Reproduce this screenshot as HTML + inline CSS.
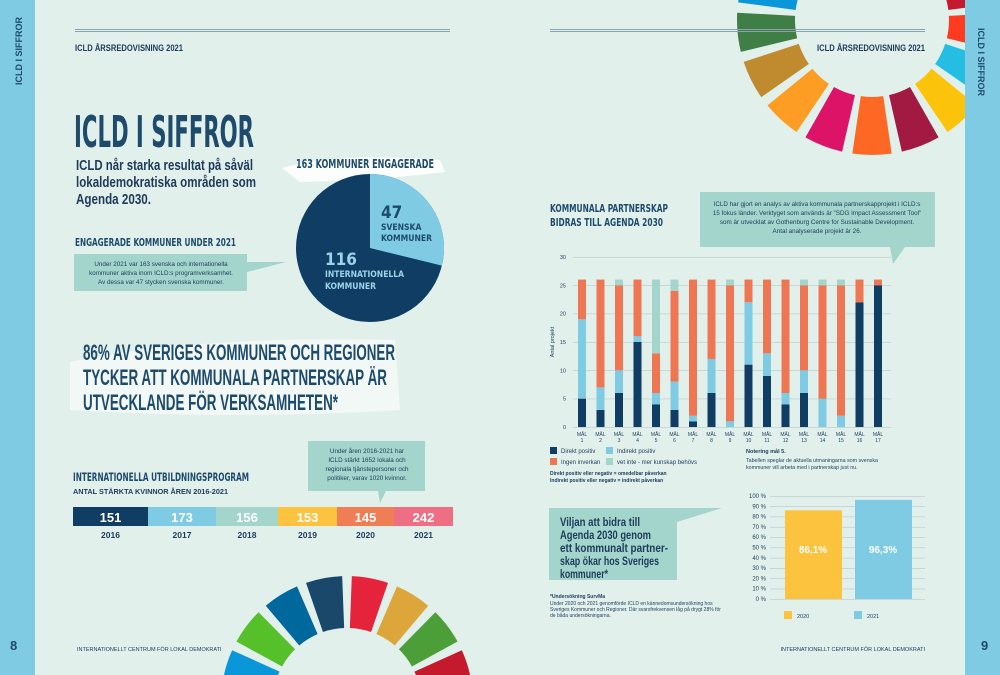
<!DOCTYPE html>
<html><head><meta charset="utf-8"><style>
html,body{margin:0;padding:0;background:#e2f0ec;width:1000px;height:675px;overflow:hidden;}
svg{display:block}
text{font-family:"Liberation Sans",sans-serif}
.g{font-family:"Liberation Sans Narrow","DejaVu Sans Condensed","Liberation Sans",sans-serif;font-weight:bold;fill:#1e4a6c}
</style></head><body>
<svg id="s" width="1000" height="675" viewBox="0 0 1000 675" xmlns="http://www.w3.org/2000/svg">
<rect width="1000" height="675" fill="#e2f0ec"/>
<g id="wheels"></g>
<rect x="0" y="0" width="35" height="675" fill="#80cbe4"/>
<rect x="965" y="0" width="35" height="675" fill="#80cbe4"/>
<text transform="translate(22,85) rotate(-90)" font-size="9" fill="#1e4a6c" font-weight="bold">ICLD I SIFFROR</text>
<text transform="translate(978,28) rotate(90)" font-size="9" fill="#1e4a6c" font-weight="bold">ICLD I SIFFROR</text>
<text x="10" y="650" font-size="13" font-weight="bold" fill="#1e4a6c">8</text>
<text x="981" y="650" font-size="13" font-weight="bold" fill="#1e4a6c">9</text>

<rect x="75" y="29" width="375" height="1" fill="#8aa3b0"/><rect x="75" y="31" width="375" height="1" fill="#8aa3b0"/>
<text x="75" y="51" font-size="9" font-weight="bold" fill="#1e3a5a" textLength="108" lengthAdjust="spacingAndGlyphs">ICLD ÅRSREDOVISNING 2021</text>
<rect x="550" y="29" width="375" height="1" fill="#8aa3b0"/><rect x="550" y="31" width="375" height="1" fill="#8aa3b0"/>
<text x="817" y="51" font-size="9" font-weight="bold" fill="#1e3a5a" textLength="108" lengthAdjust="spacingAndGlyphs">ICLD ÅRSREDOVISNING 2021</text>

<text class="g" x="74" y="147" font-size="44" textLength="180" lengthAdjust="spacingAndGlyphs">ICLD I SIFFROR</text>
<g font-size="14.5" font-weight="bold" fill="#1e3a5a">
<text x="76" y="170" textLength="177" lengthAdjust="spacingAndGlyphs">ICLD når starka resultat på såväl</text>
<text x="76" y="187" textLength="180" lengthAdjust="spacingAndGlyphs">lokaldemokratiska områden som</text>
<text x="76" y="204" textLength="75" lengthAdjust="spacingAndGlyphs">Agenda 2030.</text></g>
<path d="M282 168 Q340 152 440 160 L445 172 Q380 180 300 182 Z" fill="#fff" opacity="0.9"/>
<text class="g" x="296" y="168" font-size="12.5" textLength="138" lengthAdjust="spacingAndGlyphs">163 KOMMUNER ENGAGERADE</text>
<circle cx="370" cy="248" r="74" fill="#103d63"/>
<path id="wedge" fill="#7fcbe3"/>
<text class="g" x="381" y="218" font-size="17">47</text>
<text class="g" x="381" y="230" font-size="8.5">SVENSKA</text>
<text class="g" x="381" y="241" font-size="8.5">KOMMUNER</text>
<text class="g" x="325" y="265" font-size="17" style="fill:#9bd3e8">116</text>
<text class="g" x="325" y="277" font-size="8.5" style="fill:#9bd3e8">INTERNATIONELLA</text>
<text class="g" x="325" y="289" font-size="8.5" style="fill:#9bd3e8">KOMMUNER</text>
<text class="g" x="75" y="246" font-size="10.5" textLength="161" lengthAdjust="spacingAndGlyphs">ENGAGERADE KOMMUNER UNDER 2021</text>
<path d="M74 254 H247 V262 L286 262 L247 272 V291 H74 Z" fill="#a3d5cc"/>
<g font-size="6.3" fill="#1e3a5a" text-anchor="middle">
<text x="161" y="266">Under 2021 var 163 svenska och internationella</text>
<text x="161" y="275">kommuner aktiva inom ICLD:s programverksamhet.</text>
<text x="161" y="284">Av dessa var 47 stycken svenska kommuner.</text></g>
<path d="M70 362 Q200 335 395 340 L400 410 Q250 420 70 410 Z" fill="#fff" opacity="0.55"/>
<g class="g" font-size="22">
<text x="83" y="360" textLength="312" lengthAdjust="spacingAndGlyphs">86% AV SVERIGES KOMMUNER OCH REGIONER</text>
<text x="83" y="385" textLength="304" lengthAdjust="spacingAndGlyphs">TYCKER ATT KOMMUNALA PARTNERSKAP ÄR</text>
<text x="83" y="410" textLength="255" lengthAdjust="spacingAndGlyphs">UTVECKLANDE FÖR VERKSAMHETEN*</text></g>
<text class="g" x="73" y="481" font-size="11.5" textLength="176" lengthAdjust="spacingAndGlyphs">INTERNATIONELLA UTBILDNINGSPROGRAM</text>
<text x="73" y="494" font-size="7.5" fill="#1e3a5a" font-weight="bold" textLength="155" lengthAdjust="spacingAndGlyphs">ANTAL STÄRKTA KVINNOR ÅREN 2016-2021</text>
<path d="M308 441 H425 V491 H386 L380 503 L378 491 H308 Z" fill="#a3d5cc"/>
<g font-size="6.3" fill="#1e3a5a" text-anchor="middle">
<text x="367" y="453">Under åren 2016-2021 har</text>
<text x="367" y="462">ICLD stärkt 1652 lokala och</text>
<text x="367" y="471">regionala tjänstepersoner och</text>
<text x="367" y="480">politiker, varav 1020 kvinnor.</text></g>
<g id="years"></g>
<text x="77" y="651" font-size="5.5" fill="#1e3a5a">INTERNATIONELLT CENTRUM FÖR LOKAL DEMOKRATI</text>

<text class="g" x="550" y="212" font-size="11" textLength="118" lengthAdjust="spacingAndGlyphs">KOMMUNALA PARTNERSKAP</text>
<text class="g" x="550" y="226" font-size="11" textLength="113" lengthAdjust="spacingAndGlyphs">BIDRAS TILL AGENDA 2030</text>
<path d="M700 192 H935 V247 H905 L893 264 L890 247 H700 Z" fill="#a3d5cc"/>
<g font-size="6.3" fill="#1e3a5a" text-anchor="middle">
<text x="817" y="206">ICLD har gjort en analys av aktiva kommunala partnerskapprojekt i ICLD:s</text>
<text x="817" y="215">15 fokus länder. Verktyget som används är "SDG Impact Assessment Tool"</text>
<text x="817" y="224">som är utvecklat av Gothenburg Centre for Sustainable Development.</text>
<text x="817" y="233">Antal analyserade projekt är 26.</text></g>
<g id="chart"></g>
<g font-size="6" fill="#1e3a5a">
<rect x="550" y="447" width="7" height="7" fill="#103d63"/><text x="561" y="453">Direkt positiv</text>
<rect x="606" y="447" width="7" height="7" fill="#7fcbe3"/><text x="617" y="453">Indirekt positiv</text>
<rect x="550" y="458" width="7" height="7" fill="#ef7652"/><text x="561" y="464">Ingen inverkan</text>
<rect x="606" y="458" width="7" height="7" fill="#a3d5cc"/><text x="617" y="464">vet inte - mer kunskap behövs</text>
<text x="550" y="475" font-size="5" font-weight="bold">Direkt positiv eller negativ = omedelbar påverkan</text>
<text x="550" y="482" font-size="5" font-weight="bold">Indirekt positiv eller negativ = indirekt påverkan</text>
<text x="746" y="453" font-size="5.5" font-weight="bold">Notering mål 5.</text>
<text x="746" y="462" font-size="5.3">Tabellen speglar de aktuella utmaningarna som svenska</text>
<text x="746" y="469" font-size="5.3">kommuner vill arbeta med i partnerskap just nu.</text></g>
<path d="M549 508 H722 L677 522 V580 H549 Z" fill="#a3d5cc"/>
<g font-size="12" font-weight="bold" fill="#1e3a5a">
<text x="560" y="526" textLength="80" lengthAdjust="spacingAndGlyphs">Viljan att bidra till</text>
<text x="560" y="539" textLength="91" lengthAdjust="spacingAndGlyphs">Agenda 2030 genom</text>
<text x="560" y="552" textLength="108" lengthAdjust="spacingAndGlyphs">ett kommunalt partner-</text>
<text x="560" y="565" textLength="99" lengthAdjust="spacingAndGlyphs">skap ökar hos Sveriges</text>
<text x="560" y="578" textLength="48" lengthAdjust="spacingAndGlyphs">kommuner*</text></g>
<g font-size="5" fill="#1e3a5a">
<text x="550" y="598" font-weight="bold">*Undersökning SurvMa</text>
<text x="550" y="605">Under 2020 och 2021 genomförde ICLD en kännedomsundersökning hos</text>
<text x="550" y="611">Sveriges Kommuner och Regioner. Där svarsfrekvensen låg på drygt 28% för</text>
<text x="550" y="617">de båda undersökningarna.</text></g>
<g id="bars2"></g>
<text x="925" y="651" font-size="5.5" fill="#1e3a5a" text-anchor="end">INTERNATIONELLT CENTRUM FÖR LOKAL DEMOKRATI</text>
</svg>
<script>
var NS="http://www.w3.org/2000/svg";
function el(p,t,a,txt){var e=document.createElementNS(NS,t);for(var k in a)e.setAttribute(k,a[k]);if(txt!=null)e.textContent=txt;p.appendChild(e);return e;}
var cols=["#E5243B","#DDA63A","#4C9F38","#C5192D","#FF3A21","#26BDE2","#FCC30B","#A21942","#FD6925","#DD1367","#FD9D24","#BF8B2E","#3F7E44","#0A97D9","#56C02B","#00689D","#19486A"];
function pt(cx,cy,r,a){a=a*Math.PI/180;return [cx+r*Math.sin(a),cy-r*Math.cos(a)];}
function seg(cx,cy,r1,r2,a1,a2){var p1=pt(cx,cy,r2,a1),p2=pt(cx,cy,r2,a2),p3=pt(cx,cy,r1,a2),p4=pt(cx,cy,r1,a1);
return "M"+p1+" A"+r2+" "+r2+" 0 0 1 "+p2+" L"+p3+" A"+r1+" "+r1+" 0 0 0 "+p4+"Z";}
var W=document.getElementById("wheels");
function wheel(cx,cy,r1,r2){var st=360/17;for(var i=0;i<17;i++)el(W,"path",{d:seg(cx,cy,r1,r2,i*st+2.2,(i+1)*st-2.2),fill:cols[i]});}
wheel(872,20,77,135);wheel(347,702,74,126);
var a2=360*47/163,q=pt(370,248,74,a2);
document.getElementById("wedge").setAttribute("d","M370 248 L370 174 A74 74 0 0 1 "+q+" Z");
var Y=document.getElementById("years");
var yd=[[73,148,"#103d63","151","2016"],[148,216,"#7fcbe3","173","2017"],[216,278,"#a3d5cc","156","2018"],[278,337,"#fcc33f","153","2019"],[337,394,"#f07e55","145","2020"],[394,453,"#ee6f84","242","2021"]];
yd.forEach(function(d){el(Y,"rect",{x:d[0],y:507,width:d[1]-d[0],height:19,fill:d[2]});
el(Y,"text",{x:(d[0]+d[1])/2,y:522,"font-size":"13","font-weight":"bold",fill:"#fff","text-anchor":"middle"},d[3]);
el(Y,"text",{x:(d[0]+d[1])/2,y:538,"font-size":"8.5","font-weight":"bold",fill:"#1e3a5a","text-anchor":"middle"},d[4]);});
var C=document.getElementById("chart");
var y0=427,u=5.67;
for(var t=0;t<=30;t+=5){var yy=y0-t*u;el(C,"rect",{x:573,y:yy,width:318,height:0.6,fill:"#b9c6cc"});
el(C,"text",{x:566,y:yy+2,"font-size":"5.5",fill:"#1e3a5a","text-anchor":"end"},t);}
el(C,"text",{transform:"translate(554,342) rotate(-90)","font-size":"5.5",fill:"#1e3a5a","text-anchor":"middle"},"Antal projekt");
var data=[[5,14,7,0],[3,4,19,0],[6,4,15,1],[15,1,10,0],[4,2,7,13],[3,5,16,2],[1,1,24,0],[6,6,14,0],[0,1,24,1],[11,11,4,0],[9,4,13,0],[4,2,20,0],[6,4,15,1],[0,5,20,1],[0,2,23,1],[22,0,4,0],[25,0,1,0]];
var sc=["#103d63","#7fcbe3","#ef7652","#a3d5cc"];
data.forEach(function(d,i){var x=582+i*18.5,acc=0;d.forEach(function(v,j){if(v>0)el(C,"rect",{x:x-4,y:y0-(acc+v)*u,width:8,height:v*u,fill:sc[j]});acc+=v;});
el(C,"text",{x:x,y:436,"font-size":"5",fill:"#1e3a5a","text-anchor":"middle"},"MÅL");
el(C,"text",{x:x,y:442,"font-size":"5",fill:"#1e3a5a","text-anchor":"middle"},i+1);});
var B=document.getElementById("bars2");var b0=599,bu=1.03;
for(var t=0;t<=100;t+=10){var yy=b0-t*bu;el(B,"rect",{x:770,y:yy,width:155,height:0.6,fill:"#b9c6cc"});
el(B,"text",{x:766,y:yy+2,"font-size":"6",fill:"#1e3a5a","text-anchor":"end"},t+" %");}
el(B,"rect",{x:785,y:b0-86.1*bu,width:57,height:86.1*bu,fill:"#fcc33f"});
el(B,"rect",{x:855,y:b0-96.3*bu,width:57,height:96.3*bu,fill:"#7fcbe3"});
el(B,"text",{x:813,y:553,"font-size":"10","font-weight":"bold",fill:"#fff","text-anchor":"middle"},"86,1%");
el(B,"text",{x:883,y:553,"font-size":"10","font-weight":"bold",fill:"#fff","text-anchor":"middle"},"96,3%");
el(B,"rect",{x:784,y:611,width:8,height:8,fill:"#fcc33f"});el(B,"text",{x:797,y:618,"font-size":"5.5",fill:"#1e3a5a"},"2020");
el(B,"rect",{x:854,y:611,width:8,height:8,fill:"#7fcbe3"});el(B,"text",{x:867,y:618,"font-size":"5.5",fill:"#1e3a5a"},"2021");
</script>
</body></html>
